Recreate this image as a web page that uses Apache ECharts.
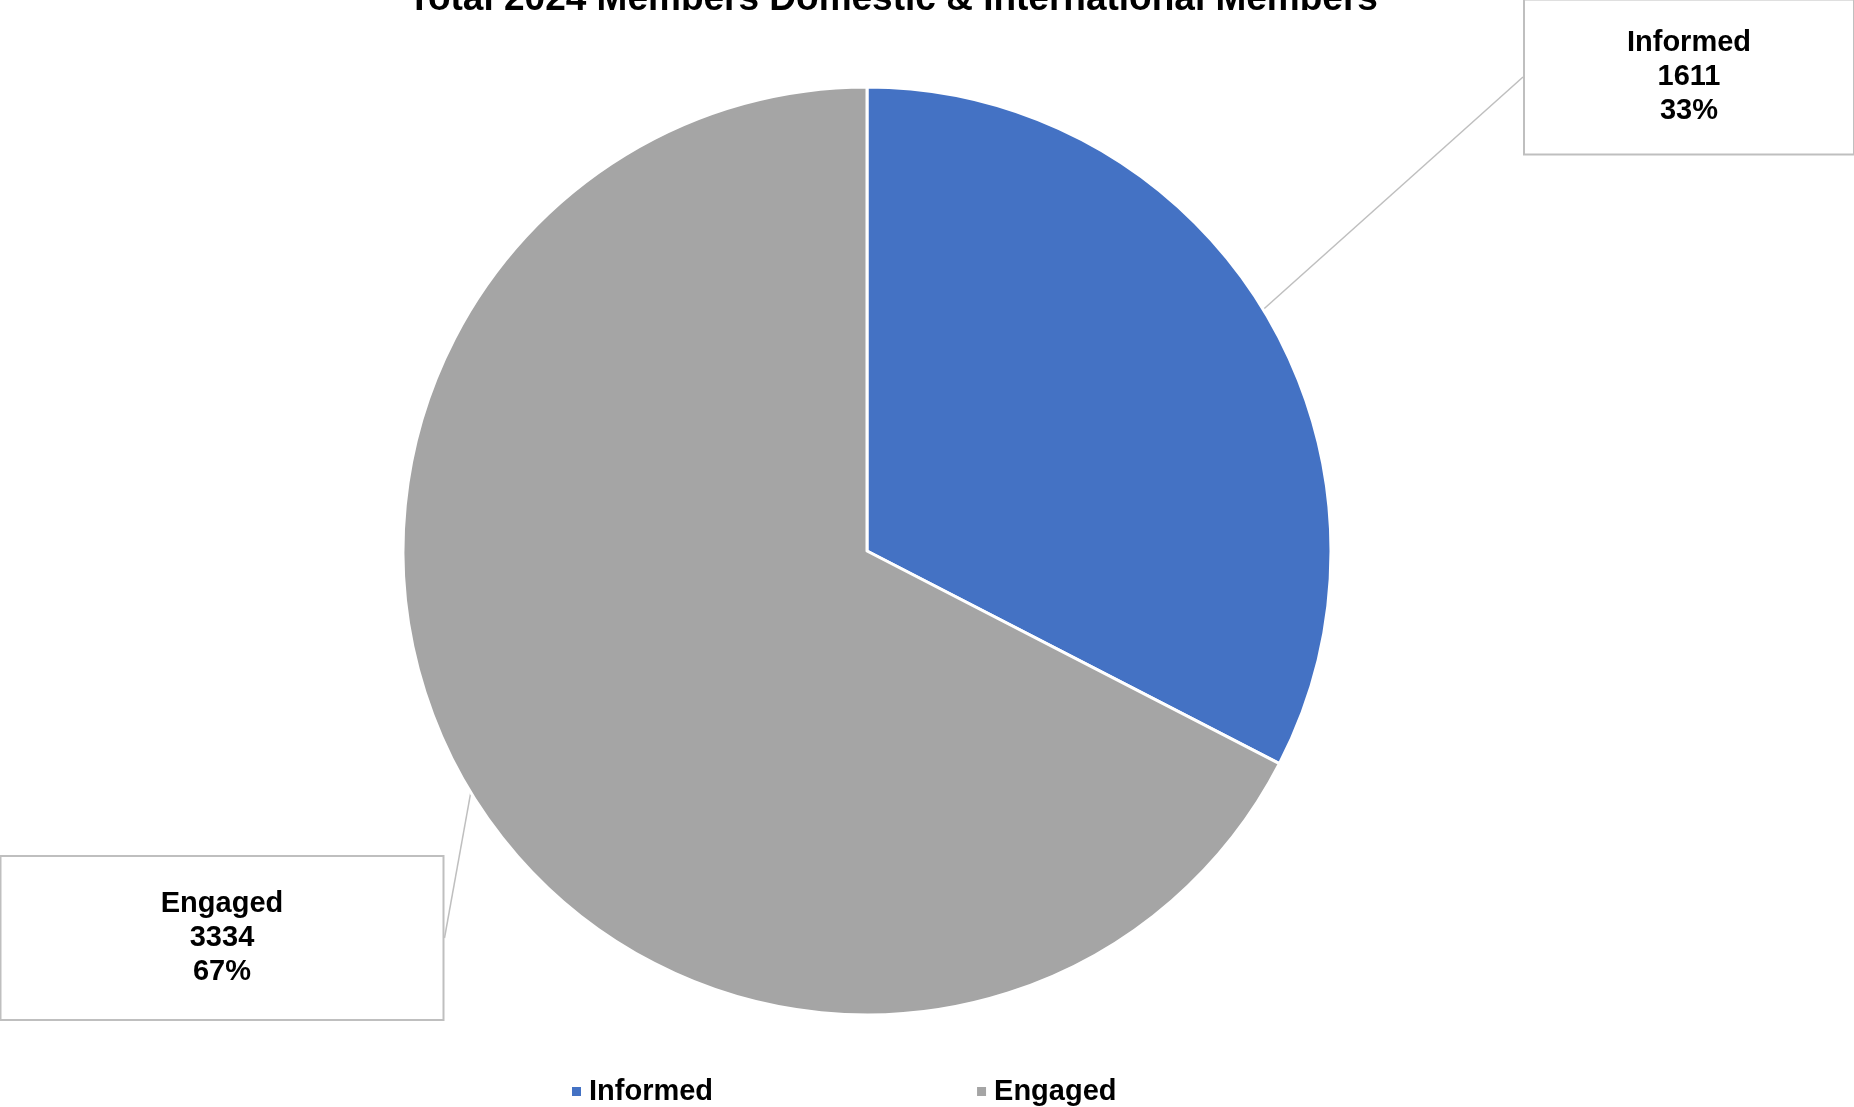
<!DOCTYPE html>
<html>
<head>
<meta charset="utf-8">
<title>Total 2024 Members Domestic & International Members</title>
<script src="https://cdn.jsdelivr.net/npm/echarts@6/dist/echarts.min.js"></script>
<style>
  html, body { margin: 0; padding: 0; background: #ffffff; }
  #chart { width: 1854px; height: 1107px; }
</style>
</head>
<body>
<div id="chart"></div>
<script>
// Member counts by engagement level
const categories = ['Informed', 'Engaged'];
const memberCounts = [1611, 3334];
const sliceColors = ['#4472C4', '#A5A5A5'];

const chartTitle = 'Total 2024 Members Domestic & International Members';
const FONT = '"Liberation Sans", Arial, Helvetica, sans-serif';

// Callout box placement for each slice label (centre point, box size)
const calloutBoxes = [
  { cx: 1689, cy: 77, w: 328, padTop: 33, padBottom: 18 },
  { cx: 222, cy: 938, w: 441, padTop: 38, padBottom: 22 }
];

const pieData = categories.map((name, i) => ({
  name: name,
  value: memberCounts[i],
  itemStyle: { color: sliceColors[i] },
  label: {
    width: calloutBoxes[i].w,
    padding: [calloutBoxes[i].padTop, 0, calloutBoxes[i].padBottom, 0]
  }
}));

const chart = echarts.init(document.getElementById('chart'), null, { renderer: 'canvas' });

chart.setOption({
  backgroundColor: '#ffffff',
  animation: false,
  title: {
    text: chartTitle,
    left: 893,
    top: -19,
    padding: 0,
    textAlign: 'center',
    textStyle: {
      fontFamily: FONT,
      fontSize: 37,
      fontWeight: 'bold',
      color: '#000000'
    }
  },
  legend: {
    data: categories,
    left: 570,
    top: 1077,
    padding: 0,
    icon: 'rect',
    itemWidth: 11,
    itemHeight: 11,
    itemGap: 262,
    textStyle: {
      fontFamily: FONT,
      fontSize: 29,
      fontWeight: 'bold',
      color: '#000000',
      padding: [0, 0, 0, 2]
    }
  },
  series: [{
    type: 'pie',
    center: [867, 551],
    radius: 464,
    startAngle: 90,
    clockwise: true,
    percentPrecision: 0,
    avoidLabelOverlap: false,
    itemStyle: {
      borderColor: '#ffffff',
      borderWidth: 3
    },
    emphasis: { disabled: true },
    label: {
      show: true,
      position: 'outside',
      formatter: '{b}\n{c}\n{d}%',
      fontFamily: FONT,
      fontSize: 29,
      lineHeight: 34,
      fontWeight: 'bold',
      color: '#000000',
      align: 'center',
      backgroundColor: '#ffffff',
      borderColor: '#BFBFBF',
      borderWidth: 2
    },
    labelLine: {
      show: true,
      length: 30,
      length2: 0,
      lineStyle: { color: '#BFBFBF', width: 1.5 }
    },
    labelLayout: function (params) {
      const box = calloutBoxes[params.dataIndex];
      return {
        x: box.cx,
        y: box.cy,
        align: 'center',
        verticalAlign: 'middle'
      };
    },
    data: pieData
  }]
});
</script>
</body>
</html>
